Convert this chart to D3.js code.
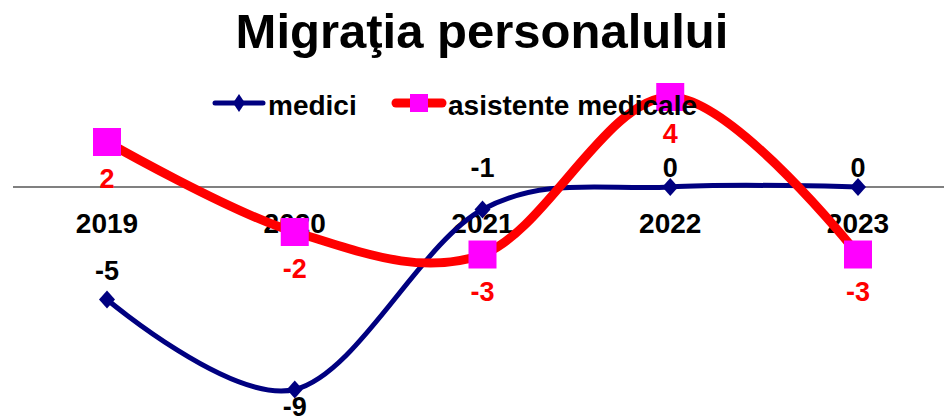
<!DOCTYPE html>
<html>
<head>
<meta charset="utf-8">
<script src="https://cdn.jsdelivr.net/npm/d3@7"></script>
<style>
  body { margin: 0; background: #fff; }
  text { font-family: "Liberation Sans", Arial, sans-serif; font-weight: bold; }
</style>
</head>
<body>
<svg id="chart" width="944" height="420"></svg>
<script>
const years = ["2019", "2020", "2021", "2022", "2023"];
const medici = [-5, -9, -1, 0, 0];
const asistente = [2, -2, -3, 4, -3];
const seriesNames = ["medici", "asistente medicale"];

const svg = d3.select("#chart");
const width = 944;

const x = d3.scalePoint().domain(years).range([107, 858]);
const y = d3.scaleLinear().domain([-10, 6]).range([412, 52]);

const line = d3.line()
  .x((d, i) => x(years[i]))
  .y(d => y(d))
  .curve(d3.curveCatmullRom.alpha(0));

// title
svg.append("text")
  .attr("x", 482)
  .attr("y", 48)
  .attr("text-anchor", "middle")
  .attr("font-size", 49)
  .text("Migraţia personalului");

// zero axis
svg.append("line")
  .attr("x1", 13).attr("x2", width)
  .attr("y1", y(0)).attr("y2", y(0))
  .attr("stroke", "#808080")
  .attr("stroke-width", 2);

// category labels
svg.selectAll(".cat")
  .data(years)
  .enter().append("text")
  .attr("class", "cat")
  .attr("x", d => x(d))
  .attr("y", 233)
  .attr("text-anchor", "middle")
  .attr("font-size", 28)
  .text(d => d);

// lines
svg.append("path")
  .datum(medici)
  .attr("d", line)
  .attr("fill", "none")
  .attr("stroke", "#000080")
  .attr("stroke-width", 5);

svg.append("path")
  .datum(asistente)
  .attr("d", line)
  .attr("fill", "none")
  .attr("stroke", "#ff0000")
  .attr("stroke-width", 9);

// markers
const diamond = (cx, cy, w, h) => `M${cx},${cy - h}L${cx + w},${cy}L${cx},${cy + h}L${cx - w},${cy}Z`;

svg.selectAll(".dia")
  .data(medici)
  .enter().append("path")
  .attr("class", "dia")
  .attr("d", (d, i) => diamond(x(years[i]), y(d), 8, 9))
  .attr("fill", "#000080");

svg.selectAll(".sq")
  .data(asistente)
  .enter().append("rect")
  .attr("class", "sq")
  .attr("x", (d, i) => x(years[i]) - 14)
  .attr("y", d => y(d) - 14)
  .attr("width", 28)
  .attr("height", 28)
  .attr("fill", "#ff00ff");

// data labels
const minMedici = d3.min(medici);
svg.selectAll(".lblM")
  .data(medici)
  .enter().append("text")
  .attr("class", "lblM")
  .attr("x", (d, i) => x(years[i]))
  .attr("y", d => d === minMedici ? y(d) + 26 : (d >= -1 ? y(0) - 10 : y(d) - 20))
  .attr("text-anchor", "middle")
  .attr("font-size", 27)
  .attr("fill", "#000")
  .text(d => d);

svg.selectAll(".lblA")
  .data(asistente)
  .enter().append("text")
  .attr("class", "lblA")
  .attr("x", (d, i) => x(years[i]))
  .attr("y", d => y(d) + 46)
  .attr("text-anchor", "middle")
  .attr("font-size", 27)
  .attr("fill", "#ff0000")
  .text(d => d);

// legend
const legend = svg.append("g");
legend.append("line")
  .attr("x1", 215).attr("x2", 263).attr("y1", 103).attr("y2", 103)
  .attr("stroke", "#000080").attr("stroke-width", 5).attr("stroke-linecap", "round");
legend.append("path")
  .attr("d", diamond(239, 103, 6, 9))
  .attr("fill", "#000080");
legend.append("text")
  .attr("x", 268).attr("y", 115)
  .attr("font-size", 28)
  .text(seriesNames[0]);

legend.append("line")
  .attr("x1", 396).attr("x2", 442).attr("y1", 103).attr("y2", 103)
  .attr("stroke", "#ff0000").attr("stroke-width", 9).attr("stroke-linecap", "round");
legend.append("rect")
  .attr("x", 410).attr("y", 94).attr("width", 18).attr("height", 18)
  .attr("fill", "#ff00ff");
legend.append("text")
  .attr("x", 448).attr("y", 115)
  .attr("font-size", 28)
  .text(seriesNames[1]);
</script>
</body>
</html>
